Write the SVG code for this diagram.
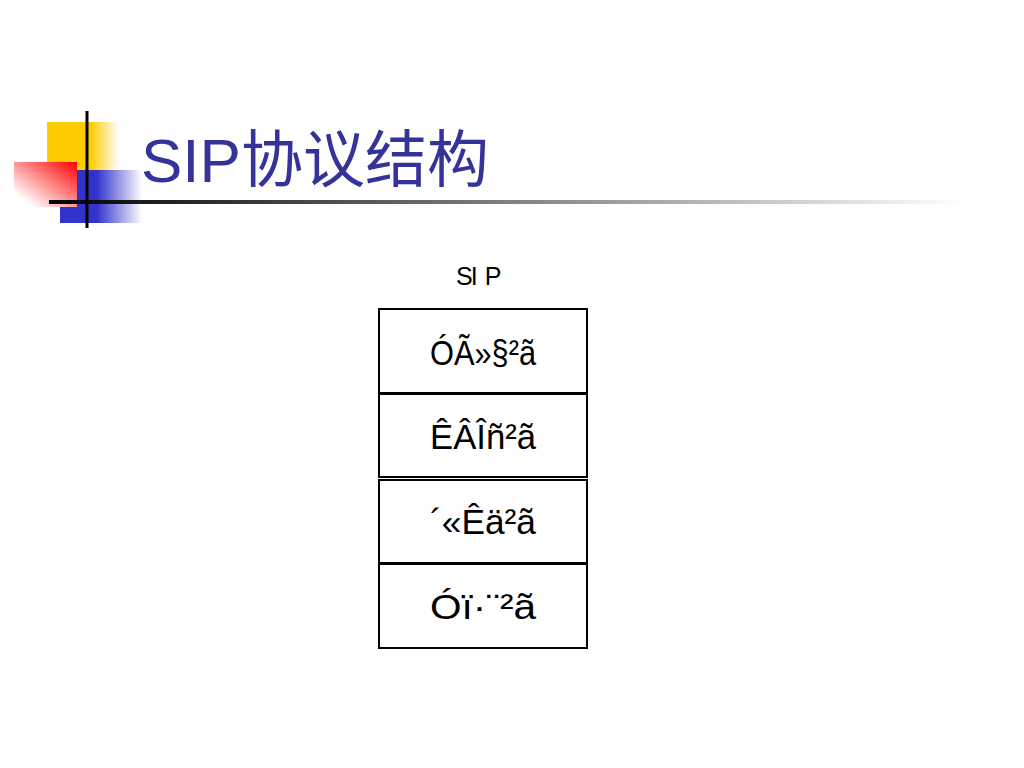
<svg xmlns="http://www.w3.org/2000/svg" width="1024" height="768" viewBox="0 0 1024 768">
<defs>
<linearGradient id="gy" x1="0" y1="0" x2="1" y2="0"><stop offset="0.6" stop-color="#ffcc00"/><stop offset="1" stop-color="#ffcc00" stop-opacity="0"/></linearGradient>
<linearGradient id="gb" x1="0" y1="0" x2="1" y2="0"><stop offset="0.45" stop-color="#3333cc"/><stop offset="1" stop-color="#3333cc" stop-opacity="0"/></linearGradient>
<linearGradient id="gr" x1="1" y1="0" x2="0" y2="1"><stop offset="0" stop-color="#ff0000"/><stop offset="0.85" stop-color="#ffffff"/></linearGradient>
<linearGradient id="gl" x1="0" y1="0" x2="1" y2="0"><stop offset="0" stop-color="#000000"/><stop offset="1" stop-color="#ffffff"/></linearGradient>
<style>
.box{fill:#ffffff;stroke:#000000;stroke-width:2}
.lbl{font-family:"Liberation Sans",Arial,sans-serif;font-size:35px;fill:#000000;text-anchor:middle}
</style>
</defs>
<rect width="1024" height="768" fill="#ffffff"/>
<g id="decor">
<rect x="47" y="122" width="72" height="48" fill="url(#gy)"/>
<rect x="60" y="170" width="82" height="53" fill="url(#gb)"/>
<rect x="14" y="162" width="63" height="45" fill="url(#gr)"/>
<rect x="49" y="200" width="915" height="4" fill="url(#gl)"/>
<rect x="85.5" y="111" width="3" height="117" fill="#000000"/>
</g>
<text id="title" x="141" y="182" font-family="'Liberation Sans','Noto Sans CJK SC',sans-serif" font-size="62" fill="#333399">SIP协议结构</text>
<text id="sip" x="456" y="285" dx="0 -2 7" font-family="'Liberation Sans',Arial,sans-serif" font-size="25" fill="#000000">SIP</text>
<g id="layer1"><rect class="box" x="379" y="309" width="208" height="84"/><text class="lbl" x="483" y="365" textLength="106" lengthAdjust="spacingAndGlyphs">ÓÃ»§²ã</text></g>
<g id="layer2"><rect class="box" x="379" y="394" width="208" height="83"/><text class="lbl" x="483" y="449" textLength="106" lengthAdjust="spacingAndGlyphs">ÊÂÎñ²ã</text></g>
<g id="layer3"><rect class="box" x="379" y="480" width="208" height="83"/><text class="lbl" x="483" y="534" textLength="106" lengthAdjust="spacingAndGlyphs">´«Êä²ã</text></g>
<g id="layer4"><rect class="box" x="379" y="564" width="208" height="84"/><text class="lbl" x="483" y="619" textLength="106" lengthAdjust="spacingAndGlyphs">Óï·¨²ã</text></g>
<g id="connectors"/>
</svg>
